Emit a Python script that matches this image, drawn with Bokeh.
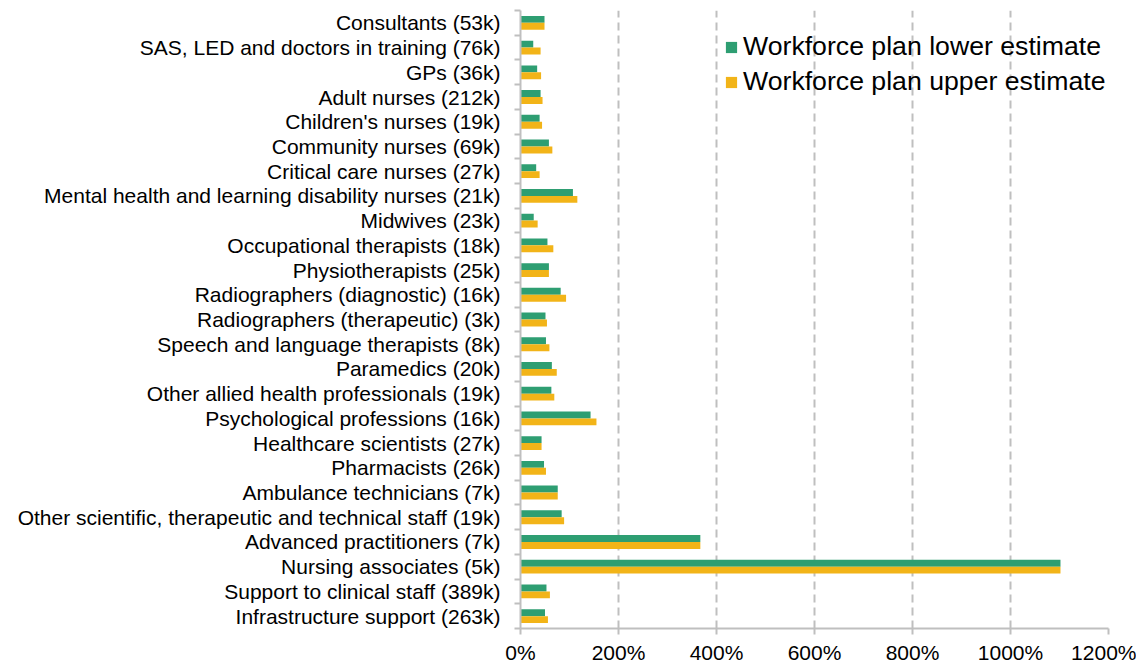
from bokeh.plotting import figure
from bokeh.models import ColumnDataSource, Range1d, FixedTicker, PrintfTickFormatter, Legend, LegendItem
from bokeh.transform import dodge
from bokeh.embed import file_html
from bokeh.resources import INLINE

categories = [
    "Consultants (53k)",
    "SAS, LED and doctors in training (76k)",
    "GPs (36k)",
    "Adult nurses (212k)",
    "Children's nurses (19k)",
    "Community nurses (69k)",
    "Critical care nurses (27k)",
    "Mental health and learning disability nurses (21k)",
    "Midwives (23k)",
    "Occupational therapists (18k)",
    "Physiotherapists (25k)",
    "Radiographers (diagnostic) (16k)",
    "Radiographers (therapeutic) (3k)",
    "Speech and language therapists (8k)",
    "Paramedics (20k)",
    "Other allied health professionals (19k)",
    "Psychological professions (16k)",
    "Healthcare scientists (27k)",
    "Pharmacists (26k)",
    "Ambulance technicians (7k)",
    "Other scientific, therapeutic and technical staff (19k)",
    "Advanced practitioners (7k)",
    "Nursing associates (5k)",
    "Support to clinical staff (389k)",
    "Infrastructure support (263k)",
]
lower_estimate = [49, 26, 34, 41, 39, 58, 32, 107, 27, 55, 58, 82, 51, 52, 64, 63, 143, 43, 48, 76, 84, 367, 1102, 53, 50]
upper_estimate = [49, 41, 42, 45, 44, 65, 39, 116, 35, 67, 58, 93, 54, 59, 74, 69, 155, 43, 52, 76, 89, 367, 1102, 60, 56]
x_ticks = [0, 200, 400, 600, 800, 1000, 1200]
series_names = ["Workforce plan lower estimate", "Workforce plan upper estimate"]

GREEN = "#2e9e72"
GOLD = "#f2b418"
FONT = "Liberation Sans"

n = len(categories)
ypos = [n - 1 - i for i in range(n)]
src = ColumnDataSource(dict(y=ypos, cat=categories, lo=lower_estimate, hi=upper_estimate))

p = figure(width=1136, height=666, output_backend="svg", toolbar_location=None,
           x_range=Range1d(0, 1200), y_range=Range1d(-0.5, n - 0.5),
           min_border_left=520, min_border_right=28, min_border_top=10, min_border_bottom=36)
p.outline_line_color = None

r1 = p.hbar(y=dodge("y", 0.14), right="lo", left=0, height=0.28, source=src, color=GREEN, line_color=None)
r2 = p.hbar(y=dodge("y", -0.14), right="hi", left=0, height=0.28, source=src, color=GOLD, line_color=None)

# x axis
p.xaxis.ticker = FixedTicker(ticks=x_ticks)
p.xaxis.formatter = PrintfTickFormatter(format="%d%%")
p.xaxis.axis_line_color = "#bfbfbf"
p.xaxis.axis_line_width = 2
p.xaxis.major_tick_line_color = "#bfbfbf"
p.xaxis.major_tick_line_width = 2
p.xaxis.major_tick_out = 6
p.xaxis.major_tick_in = 0
p.xaxis.minor_tick_line_color = None
p.xaxis.major_label_text_font = FONT
p.xaxis.major_label_text_font_size = "21px"
p.xaxis.major_label_text_color = "#000000"
p.xaxis.major_label_standoff = 6

# y axis: labels at centers, ticks at boundaries
p.yaxis.ticker = FixedTicker(ticks=ypos, minor_ticks=[k - 0.5 for k in range(n + 1)])
p.yaxis.major_label_overrides = {y: c for y, c in zip(ypos, categories)}
p.yaxis.axis_line_color = "#bfbfbf"
p.yaxis.axis_line_width = 2
p.yaxis.major_tick_line_color = None
p.yaxis.major_tick_out = 0
p.yaxis.major_tick_in = 0
p.yaxis.minor_tick_line_color = "#bfbfbf"
p.yaxis.minor_tick_line_width = 2
p.yaxis.minor_tick_out = 6
p.yaxis.minor_tick_in = 0
p.yaxis.major_label_text_font = FONT
p.yaxis.major_label_text_font_size = "21px"
p.yaxis.major_label_text_color = "#000000"
p.yaxis.major_label_standoff = 14

p.ygrid.grid_line_color = None
p.xgrid.ticker = FixedTicker(ticks=x_ticks)
p.xgrid.grid_line_color = "#bfbfbf"
p.xgrid.grid_line_width = 2
p.xgrid.grid_line_dash = "8 5"

legend = Legend(items=[LegendItem(label=series_names[0], renderers=[r1]),
                       LegendItem(label=series_names[1], renderers=[r2])],
                location=(204, 531))
legend.background_fill_alpha = 0
legend.border_line_color = None
legend.label_text_font = FONT
legend.label_text_font_size = "26.67px"
legend.label_text_color = "#000000"
legend.glyph_width = 14
legend.glyph_height = 14
legend.spacing = 4
legend.padding = 0
legend.margin = 0
legend.label_standoff = 5
p.add_layout(legend)

open("out.html", "w").write(file_html(p, INLINE))
